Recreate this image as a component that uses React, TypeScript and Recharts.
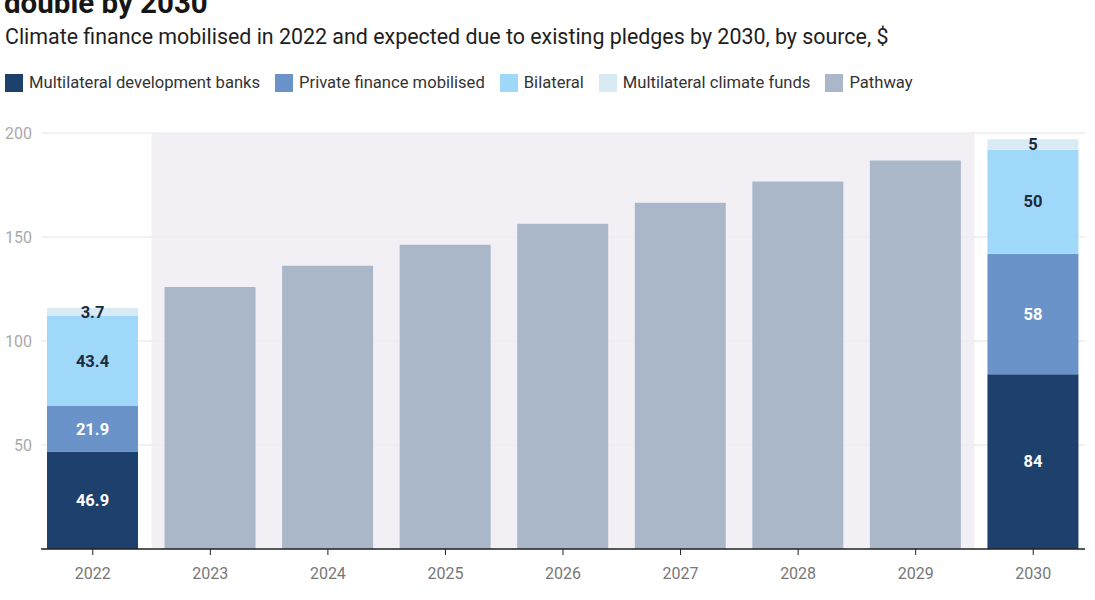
import React from 'react';
import { BarChart, Bar, XAxis, YAxis, CartesianGrid, ReferenceArea, LabelList } from 'recharts';

const categories = ['2022', '2023', '2024', '2025', '2026', '2027', '2028', '2029', '2030'];
const mdbValues = [46.9, null, null, null, null, null, null, null, 84];
const privateValues = [21.9, null, null, null, null, null, null, null, 58];
const bilateralValues = [43.4, null, null, null, null, null, null, null, 50];
const climateFundValues = [3.7, null, null, null, null, null, null, null, 5];
const pathwayValues = [null, 126, 136.2, 146.3, 156.4, 166.5, 176.7, 186.8, null];
const yTicks = [50, 100, 150, 200];

const titleText = 'double by 2030';
const subtitleText = 'Climate finance mobilised in 2022 and expected due to existing pledges by 2030, by source, $';

const series = [
  { key: 'mdb', name: 'Multilateral development banks', color: '#1e406c', labelColor: '#ffffff' },
  { key: 'private', name: 'Private finance mobilised', color: '#6a94c9', labelColor: '#ffffff' },
  { key: 'bilateral', name: 'Bilateral', color: '#9fd8f8', labelColor: '#1b2a3c' },
  { key: 'mcf', name: 'Multilateral climate funds', color: '#d8ebf4', labelColor: '#1b2a3c' },
  { key: 'pathway', name: 'Pathway', color: '#a9b7c9', labelColor: '#1b2a3c' },
];

const data = categories.map((year, i) => ({
  year,
  mdb: mdbValues[i],
  private: privateValues[i],
  bilateral: bilateralValues[i],
  mcf: climateFundValues[i],
  pathway: pathwayValues[i],
}));

const FONT = 'Roboto, sans-serif';

export default function App() {
  return (
    <div style={{ position: 'absolute', left: 0, top: 0, width: 1095, height: 600, background: '#ffffff', overflow: 'hidden', fontFamily: FONT }}>
      <div style={{ position: 'absolute', left: 4, top: -15, fontSize: 29.5, fontWeight: 700, color: '#161616', whiteSpace: 'nowrap', lineHeight: '36px' }}>
        {titleText}
      </div>
      <div style={{ position: 'absolute', left: 5, top: 24, fontSize: 21.4, color: '#1e1e1e', whiteSpace: 'nowrap', lineHeight: '26px' }}>
        {subtitleText}
      </div>
      <div style={{ position: 'absolute', left: 5, top: 73, display: 'flex', alignItems: 'center', whiteSpace: 'nowrap' }}>
        {series.map((s) => (
          <div key={s.key} style={{ display: 'flex', alignItems: 'center', marginRight: 15 }}>
            <div style={{ width: 18, height: 18, background: s.color, marginRight: 6 }} />
            <span style={{ fontSize: 16.6, color: '#333333', lineHeight: '20px' }}>{s.name}</span>
          </div>
        ))}
      </div>
      <div style={{ position: 'absolute', left: 0, top: 0 }}>
        <BarChart
          width={1095}
          height={600}
          data={data}
          margin={{ top: 133, right: 10, bottom: 21, left: 0 }}
          style={{ fontFamily: FONT }}
        >
          <ReferenceArea x1="2023" x2="2029" y1={0} y2={200} fill="#efecf3" fillOpacity={0.8} stroke="none" />
          <CartesianGrid vertical={false} stroke="#e4e4e8" />
          <XAxis
            dataKey="year"
            padding={{ left: -7, right: -7 }}
            axisLine={{ stroke: '#222222', strokeWidth: 1.5 }}
            tickLine={{ stroke: '#222222' }}
            tickSize={6}
            tickMargin={13}
            height={30}
            tick={{ fill: '#777777', fontSize: 16 }}
          />
          <YAxis
            domain={[0, 200]}
            ticks={yTicks}
            width={41}
            axisLine={false}
            tickLine={false}
            tickSize={0}
            tickMargin={9}
            tick={{ fill: '#aaaaaa', fontSize: 16 }}
          />
          {series.map((s) => (
            <Bar key={s.key} dataKey={s.key} name={s.name} stackId="a" fill={s.color} barSize={91} isAnimationActive={false}>
              {s.key !== 'pathway' && (
                <LabelList
                  dataKey={s.key}
                  position="center"
                  fill={s.labelColor}
                  fontSize={16.5}
                  fontWeight={700}
                  formatter={(v: any) => (v == null ? '' : String(v))}
                />
              )}
            </Bar>
          ))}
        </BarChart>
      </div>
    </div>
  );
}
